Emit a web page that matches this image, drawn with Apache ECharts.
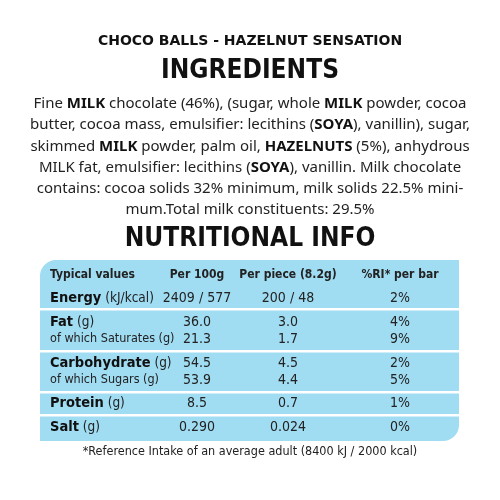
<!DOCTYPE html>
<html><head><meta charset="utf-8">
<script src="https://cdn.jsdelivr.net/npm/echarts@6/dist/echarts.min.js"></script>
<style>html,body{margin:0;padding:0;background:#fff}#c{width:500px;height:500px}</style>
</head><body><div id="c"></div>
<script>
const title = 'CHOCO BALLS - HAZELNUT SENSATION';
const ingredientsLines = [
  'Fine {b|MILK} chocolate (46%), (sugar, whole {b|MILK} powder, cocoa',
  'butter, cocoa mass, emulsifier: lecithins ({b|SOYA}), vanillin), sugar,',
  'skimmed {b|MILK} powder, palm oil, {b|HAZELNUTS} (5%), anhydrous',
  'MILK fat, emulsifier: lecithins ({b|SOYA}), vanillin. Milk chocolate',
  'contains: cocoa solids 32% minimum, milk solids 22.5% mini-',
  'mum.Total milk constituents: 29.5%'
];
const headers = ['Typical values', 'Per 100g', 'Per piece (8.2g)', '%RI* per bar'];
const rowNames = ['Energy', 'Fat', 'of which Saturates', 'Carbohydrate', 'of which Sugars', 'Protein', 'Salt'];
const rowUnits = ['(kJ/kcal)', '(g)', '(g)', '(g)', '(g)', '(g)', '(g)'];
const rowBold = [true, true, false, true, false, true, true];
const per100g = ['2409 / 577', '36.0', '21.3', '54.5', '53.9', '8.5', '0.290'];
const perPiece = ['200 / 48', '3.0', '1.7', '4.5', '4.4', '0.7', '0.024'];
const riPerBar = ['2%', '4%', '9%', '2%', '5%', '1%', '0%'];
const footnote = '*Reference Intake of an average adult (8400 kJ / 2000 kcal)';

const rowY = [298, 322, 339, 363, 380, 403, 427];
const colX = [50, 197, 288, 400];
const g = [];
g.push({type:'text', left:'center', top:34, style:{text:title, font:'bold 14px "DejaVu Sans"', fill:'#111'}});
g.push({type:'text', left:'center', top:58, style:{text:'INGREDIENTS', font:'bold 26px "DejaVu Sans Condensed"', fill:'#111'}});
ingredientsLines.forEach((l,i)=>{
  g.push({type:'text', x:250, y:104+i*21.2, style:{text:l, align:'center', verticalAlign:'middle',
    font:'15px "Noto Sans"', fill:'#222', rich:{b:{fontWeight:'bold', fontFamily:'Noto Sans', fontSize:15, fill:'#111'}}}});
});
g.push({type:'text', left:'center', top:226, style:{text:'NUTRITIONAL INFO', font:'bold 26px "DejaVu Sans Condensed"', fill:'#111'}});
g.push({type:'rect', shape:{x:40,y:260,width:419,height:181,r:[16,0,16,0]}, style:{fill:'#a0dcf2'}});
[308, 350, 391, 414].forEach(y=>g.push({type:'rect', shape:{x:40,y:y,width:419,height:2.5}, style:{fill:'#fff'}}));
headers.forEach((h,i)=>{
  g.push({type:'text', x: i===0?colX[0]:colX[i], y:275, style:{text:h, align:i===0?'left':'center', verticalAlign:'middle',
    font:'bold 12px "DejaVu Sans Condensed"', fill:'#222'}});
});
rowNames.forEach((n,i)=>{
  const y=rowY[i];
  const lbl = rowBold[i] ? '{b|'+n+'} '+rowUnits[i] : n+' '+rowUnits[i];
  g.push({type:'text', x:colX[0], y:y, style:{text:lbl, verticalAlign:'middle',
    font:(rowBold[i]?'13.5px':'12.5px')+' "DejaVu Sans Condensed"', fill:'#222',
    rich:{b:{fontWeight:'bold', fontSize:14.5, fontFamily:'DejaVu Sans Condensed', fill:'#111'}}}});
  [per100g, perPiece, riPerBar].forEach((arr,j)=>{
    g.push({type:'text', x:colX[j+1], y:y, style:{text:arr[i], align:'center', verticalAlign:'middle',
      font:'14px "DejaVu Sans Condensed"', fill:'#222'}});
  });
});
g.push({type:'text', x:250, y:452, style:{text:footnote, align:'center', verticalAlign:'middle', font:'12.5px "DejaVu Sans Condensed"', fill:'#222'}});
const chart = echarts.init(document.getElementById('c'));
chart.setOption({animation:false, graphic:g});
</script></body></html>
